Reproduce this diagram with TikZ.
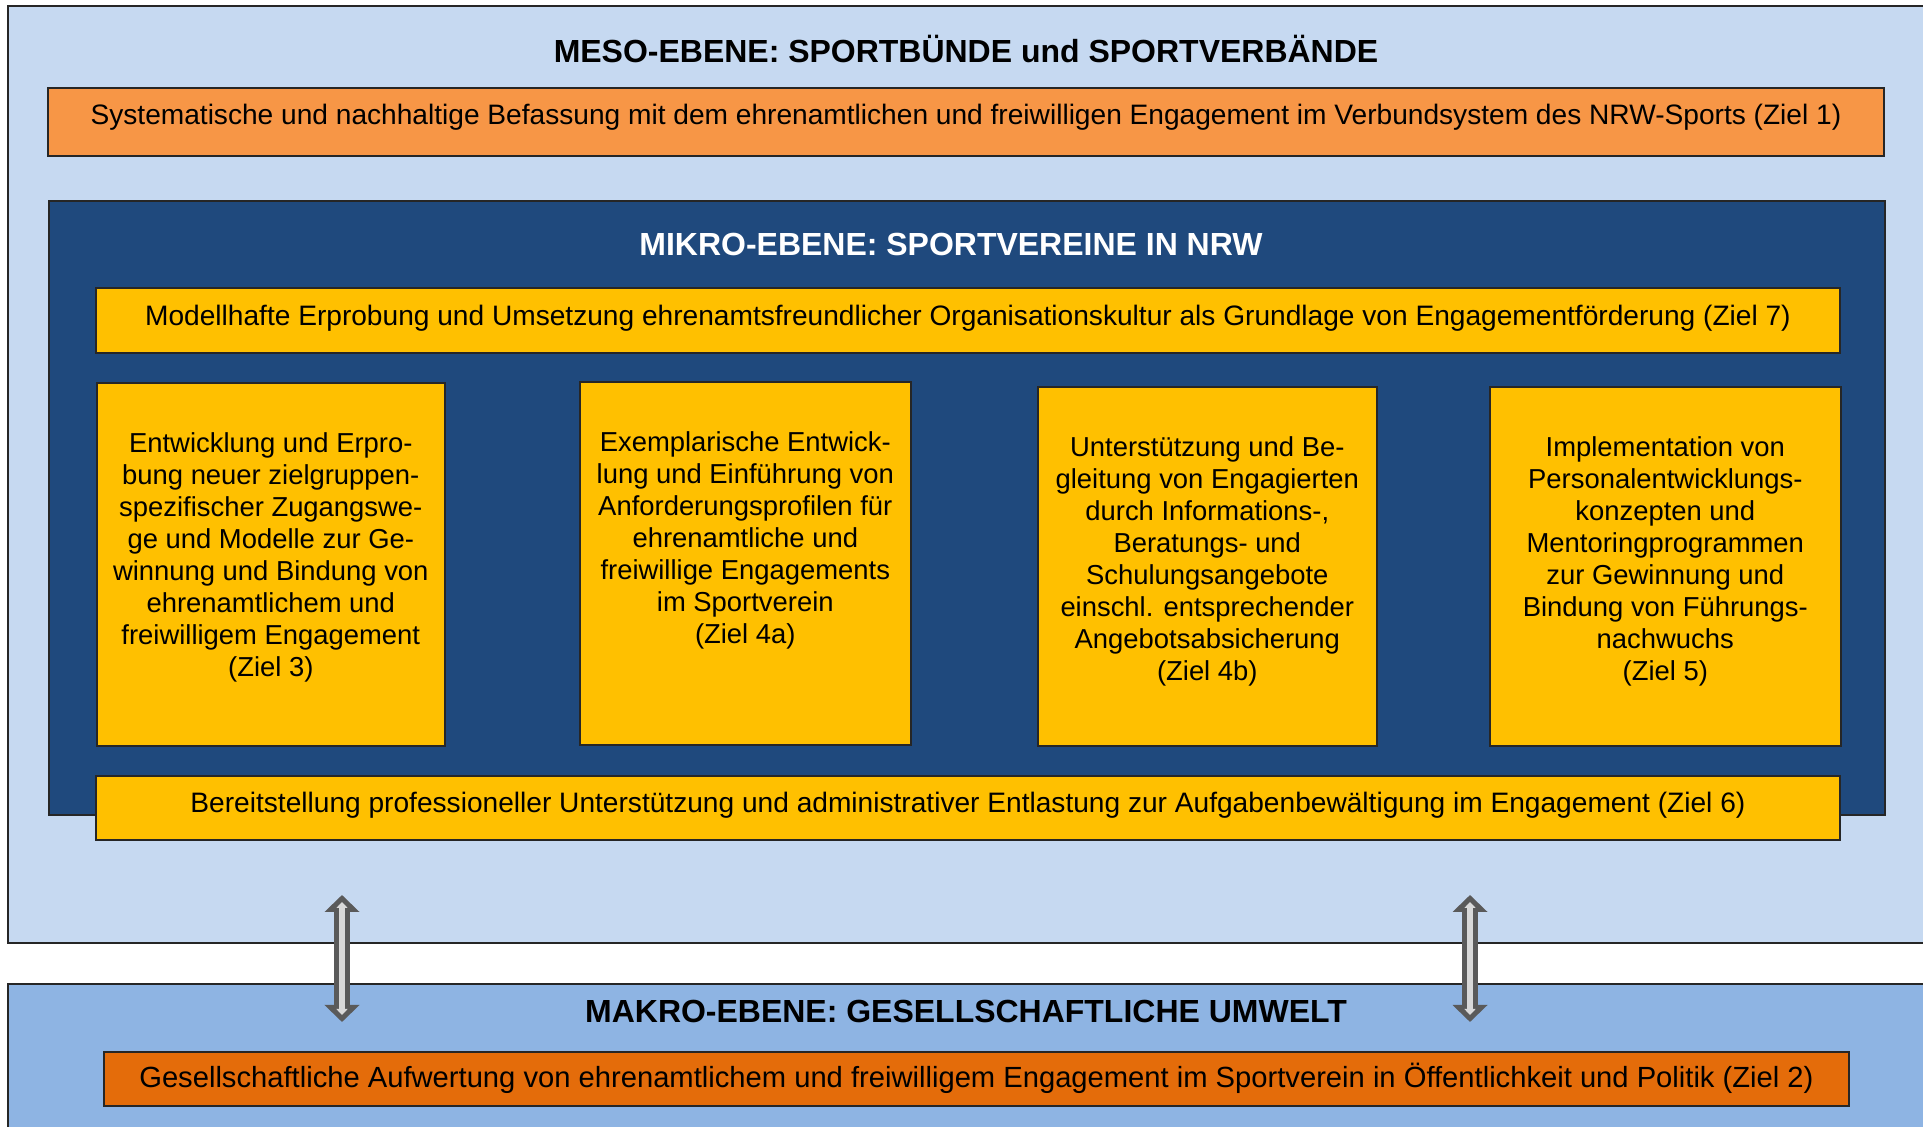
\documentclass[tikz,border=0pt]{standalone}
\usepackage{fontspec}
\setmainfont{Liberation Sans}
\usepackage{tikz}
\usetikzlibrary{arrows.meta,positioning}
\definecolor{mesoblau}{HTML}{C6D9F1}
\definecolor{makroblau}{HTML}{8EB4E3}
\definecolor{mikroblau}{HTML}{1F497D}
\definecolor{zielorange}{HTML}{F79646}
\definecolor{zielrot}{HTML}{E46C0A}
\definecolor{zielgelb}{HTML}{FFC000}
\definecolor{pfeilgrau}{HTML}{5A5A5A}
\definecolor{pfeilhell}{HTML}{D9D9D9}
\tikzset{
  feld/.style      = {draw=black!85,line width=0.45pt,inner sep=0pt},
  zieltext/.style  = {inner sep=0pt,align=center,font=\fontsize{7.8}{9.1}\selectfont},
  zeilentext/.style= {zieltext,anchor=base,font=\fontsize{8}{9.2}\selectfont},
  titel/.style     = {inner sep=0pt,anchor=base,font=\fontsize{9.1}{11}\selectfont\bfseries},
  blockarr/.style  = {{Triangle[length=1.7mm,width=3.4mm]}-{Triangle[length=1.7mm,width=3.4mm]},
                      line width=1.6mm,pfeilgrau},
  innenarr/.style  = {{Triangle[length=0.6mm,width=1.1mm]}-{Triangle[length=0.6mm,width=1.1mm]},
                      line width=0.6mm,pfeilhell,shorten <=0.7mm,shorten >=0.7mm}
}
% one-line goal box: name, centre, width, height, fill, text options, text
\newcommand{\zielzeile}[7]{%
  \node[feld,fill=#5,minimum width=#3,minimum height=#4] (#1) at (#2) {};
  \node[zeilentext,#6] (#1t) at (#1.center) {#7};
}
% goal column inside the micro level: name, top left corner, width, height, text
\newcommand{\zielspalte}[5]{%
  \node[feld,fill=zielgelb,anchor=north west,minimum width=#3,minimum height=#4] (#1) at (#2) {};
  \node[zieltext,anchor=north] (#1t) at ([yshift=-0.5cm]#1.north) {#5};
}

\begin{document}
\begin{tikzpicture}
  \useasboundingbox (0,0) rectangle (19.23,11.26);
  % levels
  \node[feld,anchor=north west,fill=mesoblau,minimum width=19.6cm,minimum height=9.37cm] (meso) at (0.07,11.21) {};
  \node[feld,anchor=north west,fill=makroblau,minimum width=19.6cm,minimum height=1.8cm] (makro) at (0.07,1.43) {};
  \node[titel] (mesotitel) at (9.66,10.63) {MESO-EBENE: SPORTBÜNDE und SPORTVERBÄNDE};
  \zielzeile{z1}{9.66,10.04}{18.36cm}{0.68cm}{zielorange}{yshift=-0.03cm}
    {Systematische und nachhaltige Befassung mit dem ehrenamtlichen und freiwilligen Engagement im Verbundsystem des NRW-Sports (Ziel 1)}

  \node[feld,anchor=north west,fill=mikroblau,minimum width=18.36cm,minimum height=6.14cm] (mikro) at (0.48,9.26) {};
  \node[titel,white] (mikrotitel) at (9.51,8.70) {MIKRO-EBENE: SPORTVEREINE IN NRW};
  \zielzeile{z7}{9.68,8.055}{17.44cm}{0.65cm}{zielgelb}{yshift=-0.05cm}
    {Modellhafte Erprobung und Umsetzung ehrenamtsfreundlicher Organisationskultur als Grundlage von Engagementförderung (Ziel 7)}

  \zielspalte{z3}{0.96,7.44}{3.48cm}{3.63cm}
    {Entwicklung und Erpro-\\bung neuer zielgruppen-\\spezifischer Zugangswe-\\ge und Modelle zur Ge-\\winnung und Bindung von\\ehrenamtlichem und\\freiwilligem Engagement\\(Ziel 3)}
  \zielspalte{z4a}{5.79,7.45}{3.31cm}{3.63cm}
    {Exemplarische Entwick-\\lung und Einführung von\\Anforderungsprofilen für\\ehrenamtliche und\\freiwillige Engagements\\im Sportverein\\(Ziel 4a)}
  \zielspalte{z4b}{10.37,7.40}{3.39cm}{3.59cm}
    {Unterstützung und Be-\\gleitung von Engagierten\\durch Informations-,\\Beratungs- und\\Schulungsangebote\\einschl. entsprechender\\Angebotsabsicherung\\(Ziel 4b)}
  \zielspalte{z5}{14.89,7.40}{3.51cm}{3.59cm}
    {Implementation von\\Personalentwicklungs-\\konzepten und\\Mentoringprogrammen\\zur Gewinnung und\\Bindung von Führungs-\\nachwuchs\\(Ziel 5)}

  \zielzeile{z6}{9.68,3.18}{17.44cm}{0.64cm}{zielgelb}{yshift=-0.05cm}
    {Bereitstellung professioneller Unterstützung und administrativer Entlastung zur Aufgabenbewältigung im Engagement (Ziel 6)}

  \node[titel] (makrotitel) at (9.66,1.04) {MAKRO-EBENE: GESELLSCHAFTLICHE UMWELT};
  \zielzeile{z2}{9.765,0.47}{17.45cm}{0.54cm}{zielrot}{yshift=-0.09cm,font=\fontsize{8.3}{9.5}\selectfont}
    {Gesellschaftliche Aufwertung von ehrenamtlichem und freiwilligem Engagement im Sportverein in Öffentlichkeit und Politik (Ziel 2)}

  % exchange between meso and macro level
  \coordinate (pl1) at (3.42,2.31);
  \coordinate (pl2) at (3.42,1.04);
  \coordinate (pr1) at (14.70,2.31);
  \coordinate (pr2) at (14.70,1.04);
  \draw[blockarr] (pl1) -- (pl2);
  \draw[innenarr] (pl1) -- (pl2);
  \draw[blockarr] (pr1) -- (pr2);
  \draw[innenarr] (pr1) -- (pr2);
\end{tikzpicture}
\end{document}
